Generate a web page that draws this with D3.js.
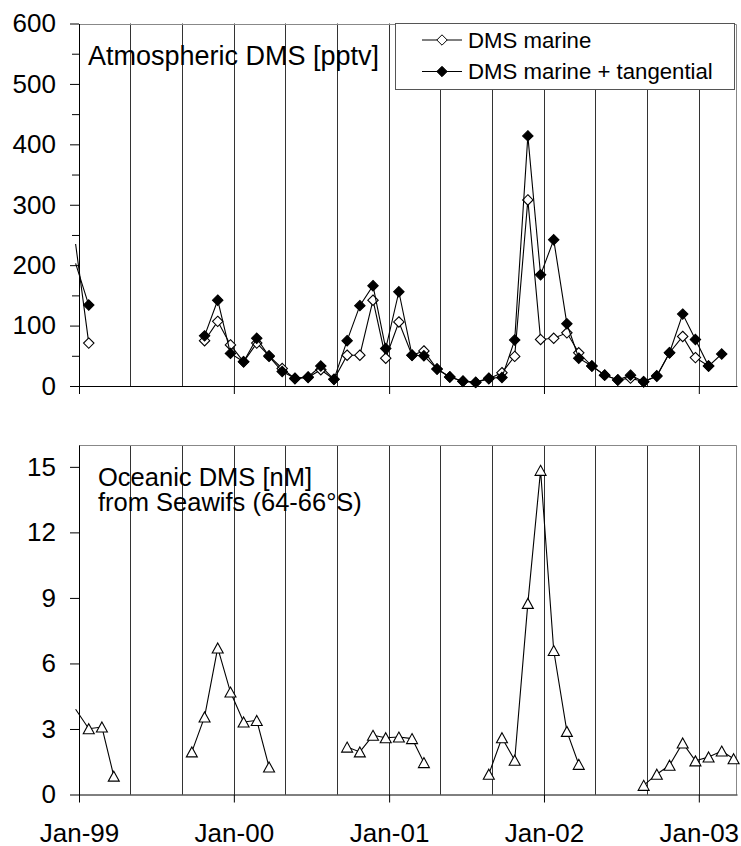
<!DOCTYPE html>
<html>
<head>
<meta charset="utf-8">
<script src="https://cdn.jsdelivr.net/npm/d3@7"></script>
<style>
body { margin: 0; background: #fff; }
text { font-family: "Liberation Sans", Arial, sans-serif; fill: #000; }
</style>
</head>
<body>
<svg id="chart" width="741" height="846"></svg>
<script>
// month index counted from Jan-99 (= 0); -1 is Dec-98, just left of the axis
var months = d3.range(-1, 51);

// atmospheric DMS [pptv], one value per month, null = no data
var dmsMarine = [
  235, 71, null, null, null, null, null, null, null, null, 75, 107,
  68, 40, 71, 50, 29, 12, 14, 27, 11, 51, 51, 142,
  46, 106, 51, 58, 28, 15, 8, 6, 12, 22, 49, 308,
  77, 79, 88, 55, 33, 18, 10, 13, 7, 16, 55, 82,
  47, 33, null, null
];
var dmsTangential = [
  203, 134, null, null, null, null, null, null, null, null, 83, 142,
  54, 40, 79, 49, 24, 13, 15, 33, 11, 75, 133, 166,
  62, 156, 51, 50, 28, 15, 8, 6, 13, 14, 76, 414,
  184, 242, 103, 46, 33, 18, 10, 18, 7, 17, 55, 119,
  77, 33, 53, null
];
// oceanic DMS [nM] from Seawifs (64-66 S)
var dmsOceanic = [
  3.9, 3.01, 3.09, 0.84, null, null, null, null, null, 1.95, 3.55, 6.71,
  4.69, 3.32, 3.39, 1.26, null, null, null, null, null, 2.17, 1.95, 2.71,
  2.6, 2.63, 2.56, 1.46, null, null, null, null, 0.93, 2.6, 1.57, 8.75,
  14.84, 6.59, 2.89, 1.38, null, null, null, null, 0.42, 0.93, 1.34, 2.36,
  1.54, 1.72, 1.99, 1.64
];

var yearLabels = ["Jan-99", "Jan-00", "Jan-01", "Jan-02", "Jan-03"];
var atmTicks = [0, 100, 200, 300, 400, 500, 600];
var atmMinor = [50, 150, 250, 350, 450, 550];
var oceTicks = [0, 3, 6, 9, 12, 15];
var legendLabels = ["DMS marine", "DMS marine + tangential"];
var oceTitle = ["Oceanic DMS [nM]", "from Seawifs (64-66\u00b0S)"];

var svg = d3.select("#chart");
var start = new Date(1999, 0, 1), end = new Date(2003, 3, 1);

var x = d3.scaleTime().domain([start, end]).range([79, 737]);
var yAtm = d3.scaleLinear().domain([0, 600]).range([386, 23.5]);
var yOce = d3.scaleLinear().domain([0, 16]).range([794.5, 445]);

var years = d3.timeYear.range(start, new Date(2003, 0, 2));
var grid = d3.timeMonth.every(4).range(start, new Date(2003, 0, 2));

function dateOf(m) { return new Date(1999, m, 24); }

function series(values) {
  return months.map(function(m, i) { return { date: dateOf(m), v: values[i] }; });
}

function diamond(r) {
  return "M0," + (-r) + "L" + r + ",0L0," + r + "L" + (-r) + ",0Z";
}
function triangle(r) {
  return "M0," + (-r) + "L" + (r + 0.5) + "," + r + "L" + (-r - 0.5) + "," + r + "Z";
}

function frame(y, id) {
  var top = y.range()[1], bottom = y.range()[0];

  svg.append("defs").append("clipPath").attr("id", id)
    .append("rect")
      .attr("x", 73).attr("y", top)
      .attr("width", x.range()[1] - 73).attr("height", bottom - top);

  svg.append("g").selectAll("line")
      .data(grid.slice(1))
    .enter().append("line")
      .attr("x1", function(d) { return Math.round(x(d)) + 0.5; })
      .attr("x2", function(d) { return Math.round(x(d)) + 0.5; })
      .attr("y1", top).attr("y2", bottom)
      .attr("stroke", "#333").attr("stroke-width", 1);

  // grey top and right border of the plot area
  svg.append("path")
      .attr("d", "M" + x.range()[0] + "," + (Math.round(top) + 0.5) + "H" + (x.range()[1] - 0.5) + "V" + bottom)
      .attr("fill", "none").attr("stroke", "#888");
}

function axes(y, ticks, minor, labelled) {
  var bottom = y.range()[0];

  var ax = svg.append("g")
      .attr("transform", "translate(0," + bottom + ")")
      .call(d3.axisBottom(x).tickValues(years).tickSizeInner(8).tickSizeOuter(0)
        .tickFormat(function(d, i) { return labelled ? yearLabels[i] : ""; }));
  ax.attr("font-family", null).attr("font-size", 26);
  ax.selectAll("text").attr("y", 47).attr("dy", null);

  var ay = svg.append("g")
      .attr("transform", "translate(" + x.range()[0] + ",0)")
      .call(d3.axisLeft(y).tickValues(ticks).tickSizeInner(9).tickSizeOuter(0).tickPadding(14));
  ay.attr("font-family", null).attr("font-size", 26);

  if (minor) {
    svg.append("g")
        .attr("transform", "translate(" + x.range()[0] + ",0)")
        .call(d3.axisLeft(y).tickValues(minor).tickSizeInner(7).tickSizeOuter(0).tickFormat(""))
      .select(".domain").remove();
  }
  svg.selectAll(".domain, .tick line").attr("stroke", "#000");
}

function plotLine(data, y, clip) {
  svg.append("path")
      .datum(data)
      .attr("clip-path", "url(#" + clip + ")")
      .attr("fill", "none")
      .attr("stroke", "#000")
      .attr("stroke-width", 1.1)
      .attr("d", d3.line()
        .defined(function(d) { return d.v != null; })
        .x(function(d) { return x(d.date); })
        .y(function(d) { return y(d.v); }));
}

function plotMarks(data, y, shape, fill) {
  svg.append("g").selectAll("path")
      .data(data.filter(function(d) { return d.v != null && d.date >= start; }))
    .enter().append("path")
      .attr("transform", function(d) { return "translate(" + x(d.date) + "," + y(d.v) + ")"; })
      .attr("d", shape)
      .attr("fill", fill)
      .attr("stroke", "#000")
      .attr("stroke-width", 1.1);
}

// upper panel: atmospheric DMS
frame(yAtm, "clipAtm");
axes(yAtm, atmTicks, atmMinor, false);

var marine = series(dmsMarine), tangential = series(dmsTangential);
plotLine(marine, yAtm, "clipAtm");
plotMarks(marine, yAtm, diamond(5.2), "#fff");
plotLine(tangential, yAtm, "clipAtm");
plotMarks(tangential, yAtm, diamond(5.2), "#000");

svg.append("text")
    .attr("x", 88).attr("y", 65)
    .attr("font-size", 27)
    .text("Atmospheric DMS [pptv]");

// legend
var legend = svg.append("g");
legend.append("rect")
    .attr("x", 395.5).attr("y", 23.5).attr("width", 339).attr("height", 66)
    .attr("fill", "#fff").attr("stroke", "#555");
var entry = legend.selectAll(".entry")
    .data(legendLabels)
  .enter().append("g")
    .attr("transform", function(d, i) { return "translate(0," + (40 + i * 31.5) + ")"; });
entry.append("line")
    .attr("x1", 422).attr("x2", 462)
    .attr("stroke", "#000");
entry.append("path")
    .attr("transform", "translate(442,0)")
    .attr("d", diamond(5.2))
    .attr("fill", function(d, i) { return i ? "#000" : "#fff"; })
    .attr("stroke", "#000");
entry.append("text")
    .attr("x", 468).attr("y", 7.5)
    .attr("font-size", 22.2)
    .text(function(d) { return d; });

// lower panel: oceanic DMS
frame(yOce, "clipOce");
axes(yOce, oceTicks, null, true);

var oceanic = series(dmsOceanic);
plotLine(oceanic, yOce, "clipOce");
plotMarks(oceanic, yOce, triangle(5), "#fff");

svg.append("g").selectAll("text")
    .data(oceTitle)
  .enter().append("text")
    .attr("x", 98)
    .attr("y", function(d, i) { return 485.5 + i * 25.5; })
    .attr("font-size", 25.5)
    .text(function(d) { return d; });
</script>
</body>
</html>
